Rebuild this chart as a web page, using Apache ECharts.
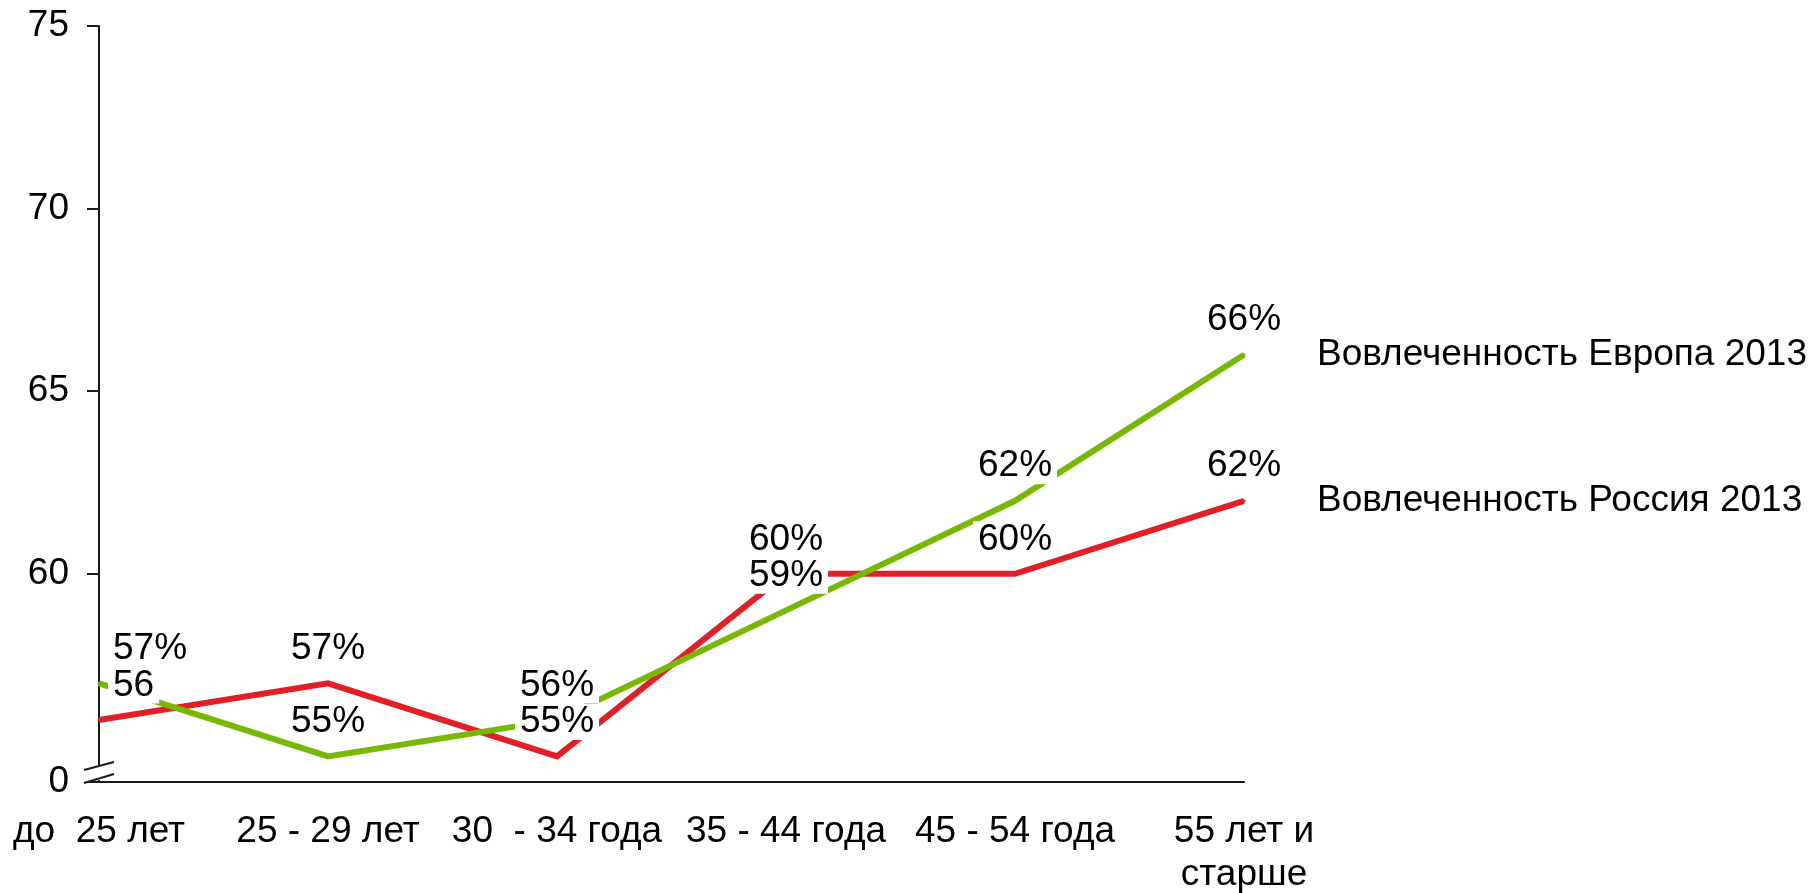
<!DOCTYPE html>
<html>
<head>
<meta charset="utf-8">
<title>Вовлеченность 2013</title>
<script src="https://cdn.jsdelivr.net/npm/echarts@6/dist/echarts.min.js"></script>
<style>
	html, body { margin: 0; padding: 0; background: #fff; }
	#chart { width: 1814px; height: 893px; }
</style>
</head>
<body>
<div id="chart"></div>
<script>
	// данные
	var categories = ['до  25 лет', '25 - 29 лет', '30  - 34 года', '35 - 44 года', '45 - 54 года', '55 лет и\nстарше'];
	var russiaName = 'Вовлеченность Россия 2013';
	var europeName = 'Вовлеченность Европа 2013';
	var russiaValues = [56, 57, 55, 60, 60, 62];
	var europeValues = [57, 55, 56, 59, 62, 66];
	var russiaLabels = ['56', '57%', '55%', '60%', '60%', '62%'];
	var europeLabels = ['57%', '55%', '56%', '59%', '62%', '66%'];
	var yTicks = [60, 65, 70, 75];
	var yBottom = 54.3; // разрыв оси, подпись "0"
	var yBottomLabel = '0';
	var yTop = 75;

	var red = '#e21f26';
	var green = '#78b800';
	var font = 'Liberation Sans, Arial, sans-serif';
	var fontSize = 37;

	var myChart = echarts.init(document.getElementById('chart'));

	//точки, первая подпись сдвинута вправо
	function seriesData(values) {
		var data = [];
		for(var i = 0; i < values.length; i++) {
			var item = { value: values[i] };
			if(i == 0) {
				item.label = { align: 'left', offset: [9, 0] };
			}
			data.push(item);
		}
		return data;
	}

	function makeSeries(name, values, labels, color) {
		return {
			name: name,
			type: 'line',
			data: seriesData(values),
			symbol: 'circle',
			symbolSize: 3,
			itemStyle: { color: color },
			lineStyle: { color: color, width: 6, join: 'miter', cap: 'butt' },
			label: {
				show: true,
				position: 'top',
				distance: 15,
				formatter: function(p) { return labels[p.dataIndex]; },
				color: '#000',
				fontFamily: font,
				fontSize: fontSize,
				lineHeight: 36,
				backgroundColor: '#fff',
				padding: [0, 5]
			},
			endLabel: {
				show: true,
				formatter: '{a}',
				distance: 73,
				color: '#000',
				fontFamily: font,
				fontSize: fontSize
			},
			emphasis: { disabled: true }
		};
	}

	var yCustom = [yBottom].concat(yTicks);

	var option = {
		animation: false,
		grid: { left: 99, right: 570, top: 26, bottom: 111, containLabel: false, outerBoundsMode: 'none' },
		xAxis: {
			type: 'category',
			data: categories,
			boundaryGap: false,
			axisLine: { lineStyle: { color: '#1a1a1a', width: 2 } },
			axisTick: { show: false },
			axisLabel: {
				interval: 0,
				margin: 28,
				color: '#000',
				fontFamily: font,
				fontSize: fontSize,
				lineHeight: 43
			},
			splitLine: { show: false }
		},
		yAxis: {
			type: 'value',
			min: yBottom,
			max: yTop,
			axisLine: { show: true, lineStyle: { color: '#1a1a1a', width: 2 } },
			axisTick: { show: true, length: 12, customValues: yCustom, lineStyle: { color: '#1a1a1a', width: 2 } },
			axisLabel: {
				customValues: yCustom,
				margin: 30,
				color: '#000',
				fontFamily: font,
				fontSize: fontSize,
				formatter: function(v) { return v < yTicks[0] ? yBottomLabel : String(v); }
			},
			splitLine: { show: false }
		},
		series: [
			makeSeries(russiaName, russiaValues, russiaLabels, red),
			makeSeries(europeName, europeValues, europeLabels, green)
		]
	};
	myChart.setOption(option);

	//значок разрыва оси
	var px = myChart.convertToPixel({ xAxisIndex: 0 }, 0);
	var py = myChart.convertToPixel({ yAxisIndex: 0 }, yBottom);
	var breakStyle = { stroke: '#1a1a1a', lineWidth: 2 };
	myChart.setOption({
		graphic: [
			{ type: 'line', z: 100, shape: { x1: px, y1: py - 17, x2: px, y2: py - 2 }, style: { stroke: '#fff', lineWidth: 5 } },
			{ type: 'line', z: 101, shape: { x1: px - 15, y1: py - 12, x2: px + 15, y2: py - 20 }, style: breakStyle },
			{ type: 'line', z: 101, shape: { x1: px - 15, y1: py + 1, x2: px + 15, y2: py - 8 }, style: breakStyle }
		]
	});
</script>
</body>
</html>
